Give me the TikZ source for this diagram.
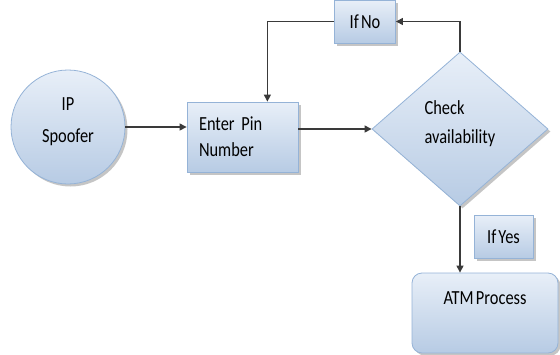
\documentclass[tikz,border=0pt]{standalone}
\usepackage{fontspec}
\setmainfont{Carlito}[FakeStretch=0.82, WordSpace=0.6]
\usetikzlibrary{shapes.geometric,shadows,arrows.meta}
\definecolor{boxedge}{HTML}{95B3D7}
\definecolor{boxtop}{HTML}{E8EFF8}
\definecolor{boxbot}{HTML}{B7CBE4}
\definecolor{wire}{HTML}{3A3A3A}
\begin{document}
\begin{tikzpicture}[x=1pt, y=-1pt, font=\fontsize{20}{26}\selectfont,
  blk/.style={draw=boxedge, line width=0.8pt, top color=boxtop, bottom color=boxbot,
              drop shadow={shadow xshift=2.5pt, shadow yshift=-2.5pt, fill=black!45},
              inner sep=0pt},
  rnd/.style={blk, circle, minimum size=114pt, align=center},
  pin/.style={blk, minimum width=111pt, minimum height=70pt, text width=87pt, align=left},
  dia/.style={blk, diamond, minimum width=176pt, minimum height=154pt, align=left},
  tag/.style={blk, minimum height=43pt, inner xsep=8pt},
  fin/.style={blk, rounded corners=10pt, minimum width=146pt, inner sep=6pt,
              text height=25pt, text depth=43pt},
  arr/.style={draw=wire, line width=1.1pt, -{Triangle[length=7pt, width=7pt]}},
]
  \useasboundingbox (0,0) rectangle (560,354);

  \node[rnd] (spoofer) at (68,127) {IP\\[6pt]Spoofer\\[-12pt]\mbox{}};
  \node[pin] (enter) at (242.5,137) {Enter Pin\\Number};
  \node[dia] (check) at (460,129) {Check\\[3pt]availability\\[-12pt]\mbox{}};
  \node[tag, minimum width=61pt] (ifno) at (365,21.5) {If No};
  \node[tag, minimum width=59pt] (ifyes) at (503.5,236.5) {If Yes};
  \node[fin] (atm) at (485,313) {ATM Process};

  \coordinate (back) at ([xshift=-31pt]enter.north east);

  \draw[arr] (spoofer.east) -- (spoofer.east -| enter.west);
  \draw[arr] (check.west -| enter.east) -- (check.west);
  \draw[arr] (check.north) |- (ifno.east);
  \draw[arr] (ifno.west) -| (back);
  \draw[arr] (check.south) -- (check.south |- atm.north);
\end{tikzpicture}
\end{document}
